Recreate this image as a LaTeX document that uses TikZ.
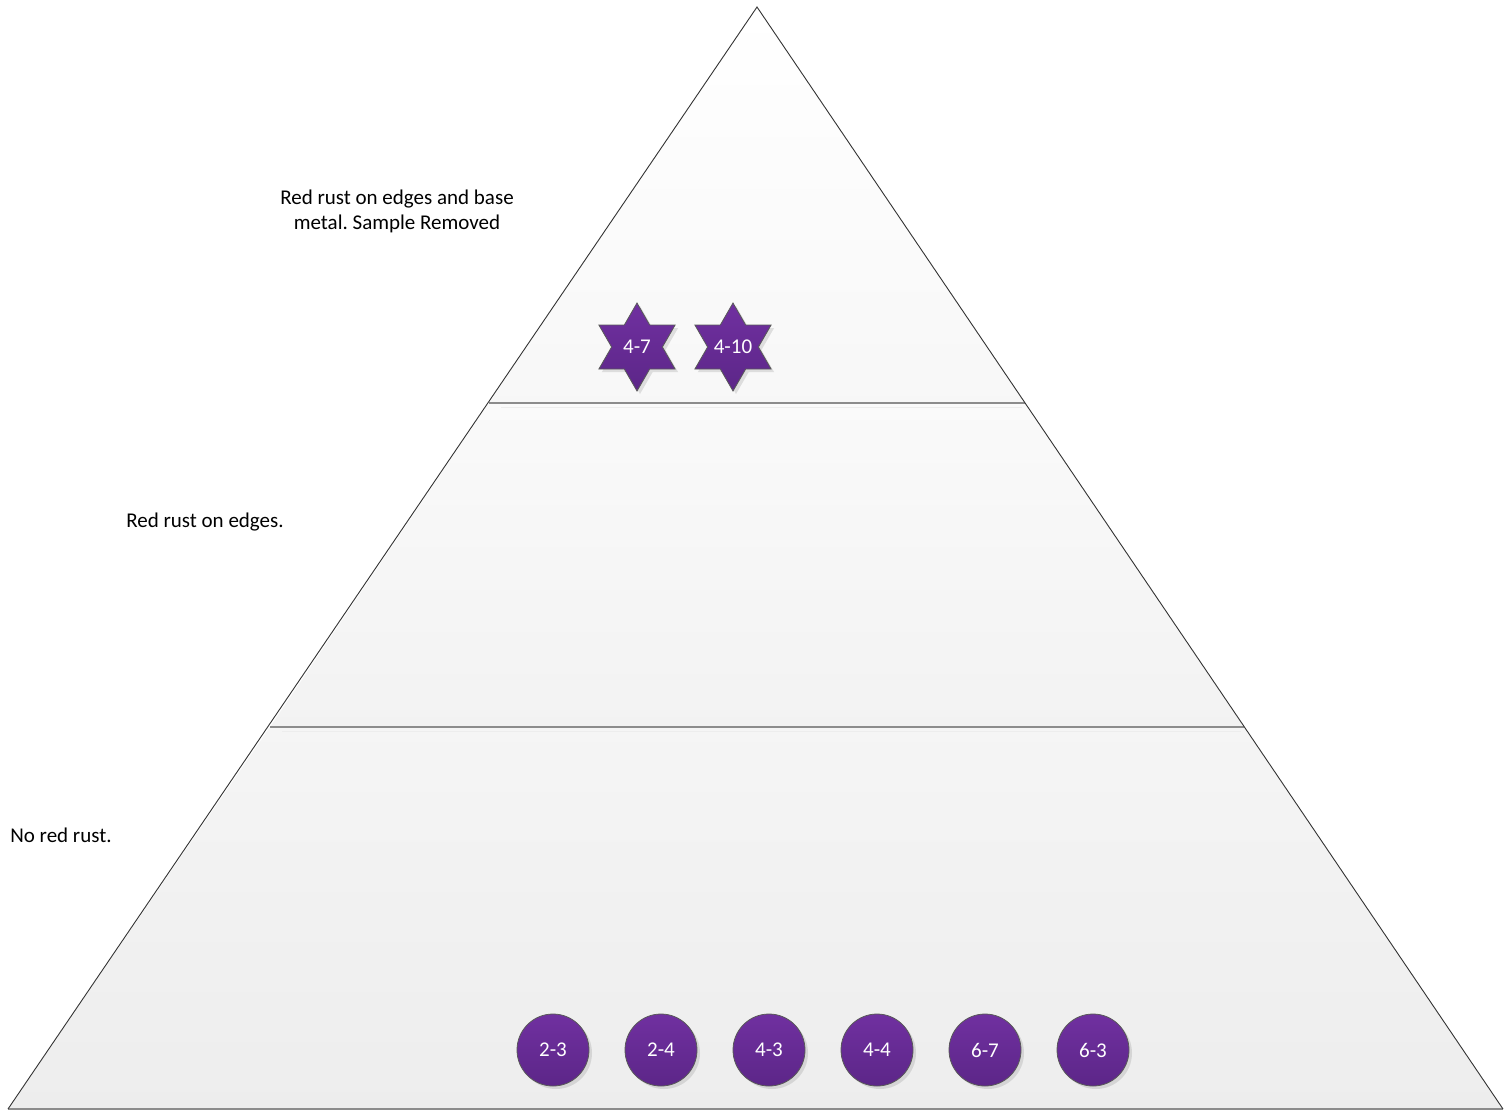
\documentclass[tikz,border=0pt]{standalone}
\usepackage{fontspec}
\setmainfont{Carlito}
\frenchspacing
\usetikzlibrary{shapes.geometric,shadows}
\definecolor{plum}{HTML}{7030A0}
\definecolor{plumdark}{HTML}{5C2688}
\begin{document}
\begin{tikzpicture}[x=1pt,y=-1pt,
  edge/.style={draw=black!80,line width=0.9pt},
  tierline/.style={draw=black!45,line width=1.6pt},
  tiershade/.style={draw=black!7,line width=1pt},
  caption/.style={font=\fontsize{21}{25}\selectfont,align=center,text=black},
  badge/.style={circle,draw=black!65,line width=0.8pt,top color=plum,bottom color=plumdark,
    minimum size=72pt,inner sep=0pt,text=white,font=\fontsize{21}{25}\selectfont,
    drop shadow={shadow xshift=3pt,shadow yshift=-3pt,opacity=0.22}},
  % the star keeps a fixed size; its text sits on it as a centred label
  starbadge/.style={star,star points=6,star point ratio=1.732,draw=black!65,line width=0.8pt,
    top color=plum,bottom color=plumdark,minimum size=88pt,inner sep=0pt,
    drop shadow={shadow xshift=3pt,shadow yshift=-3pt,opacity=0.22},
    label={[text=white,font=\fontsize{21}{25}\selectfont]center:#1}}]
\useasboundingbox (0,0) rectangle (1511,1111);
\fill[white] (0,0) rectangle (1511,1111);

% corner points of the pyramid and its tiers
\coordinate (apex) at (757,7);
\coordinate (t1l) at (489,403);
\coordinate (t1r) at (1025,403);
\coordinate (t2l) at (270,727);
\coordinate (t2r) at (1244,727);
\coordinate (bl) at (8,1109);
\coordinate (br) at (1503,1109);

% tier fills
\shade[top color=white,bottom color=black!3] (apex) -- (t1r) -- (t1l) -- cycle;
\shade[top color=black!2,bottom color=black!5] (t1l) -- (t1r) -- (t2r) -- (t2l) -- cycle;
\shade[top color=black!4,bottom color=black!7] (t2l) -- (t2r) -- (br) -- (bl) -- cycle;

% tier boundaries
\draw[tiershade] ([xshift=12pt,yshift=-4pt]t1l) -- ([xshift=-3pt,yshift=-4pt]t1r);
\draw[tiershade] ([xshift=12pt,yshift=-4pt]t2l) -- ([xshift=-3pt,yshift=-4pt]t2r);
\draw[tierline] (t1l) -- (t1r);
\draw[tierline] (t2l) -- (t2r);
\draw[tierline] (bl) -- (br);

% outer sides
\draw[edge] (bl) -- (apex) -- (br);

% captions
\node[caption] (cap1) at (397,211) {Red rust on edges and base\\metal. Sample Removed};
\node[caption] (cap2) at (205,522) {Red rust on edges.};
\node[caption] (cap3) at (61,835) {No red rust.};

% samples
\node[starbadge={4-7}] (s47) at (637,347) {};
\node[starbadge={4-10}] (s410) at (733,347) {};

\node[badge] (c23) at (553,1050) {2-3};
\node[badge] (c24) at (661,1050) {2-4};
\node[badge] (c43) at (769,1050) {4-3};
\node[badge] (c44) at (877,1050) {4-4};
\node[badge] (c67) at (985,1050) {6-7};
\node[badge] (c63) at (1093,1050) {6-3};
\end{tikzpicture}
\end{document}
